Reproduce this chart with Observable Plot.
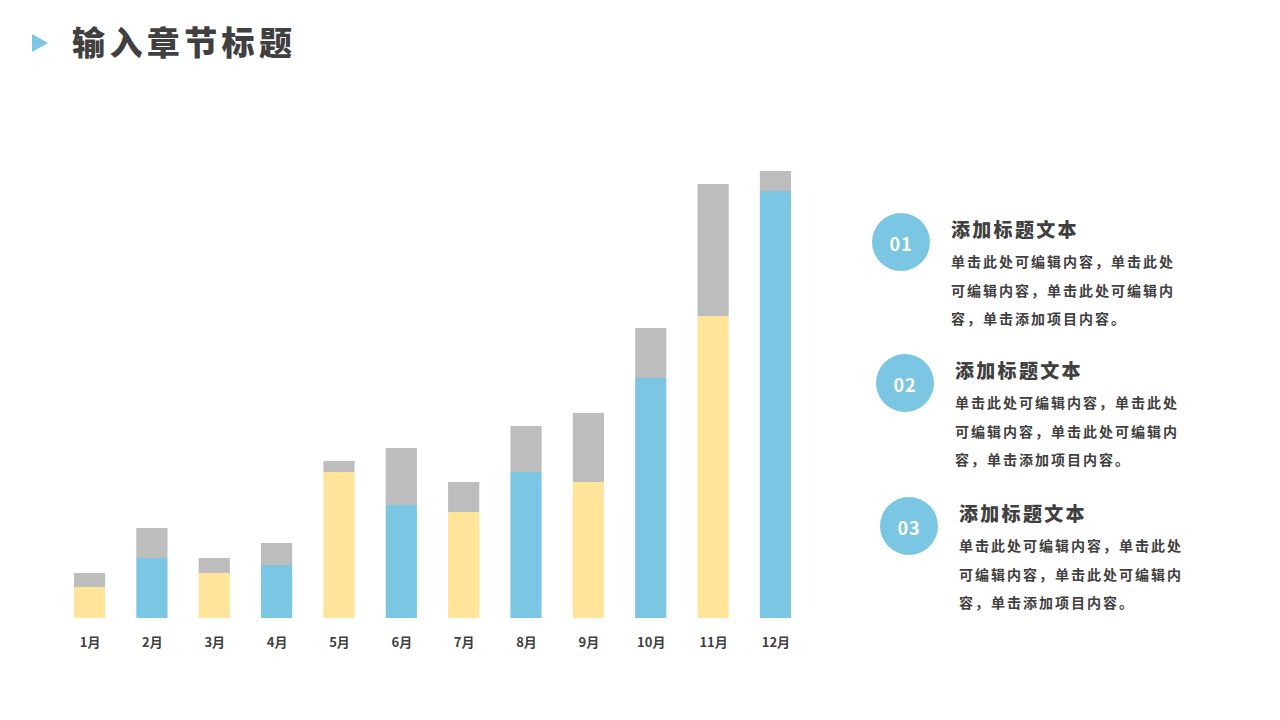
<!DOCTYPE html>
<html lang="zh">
<head>
<meta charset="utf-8">
<script src="https://cdn.jsdelivr.net/npm/d3@7"></script>
<script src="https://cdn.jsdelivr.net/npm/@observablehq/plot@0.6"></script>
<style>
  html, body { margin: 0; padding: 0; background: #fff; overflow: hidden; width: 1280px; height: 720px; }
  body { position: relative; font-family: "Noto Sans CJK SC", "Noto Sans", sans-serif; color: #404040; }
  #title { position: absolute; left: 72px; top: 18px; font-size: 33px; line-height: 46px; font-weight: 900; letter-spacing: 4.4px; white-space: nowrap; }
  #tri { position: absolute; left: 32px; top: 34px; width: 0; height: 0; border-left: 16px solid #7AC6E3; border-top: 9.5px solid transparent; border-bottom: 9.5px solid transparent; }
  #chart { position: absolute; left: 0; top: 90px; }
  #chart svg { display: block; }
  .item { position: absolute; width: 320px; height: 110px; }
  .badge { position: absolute; left: 0; top: 0; width: 58px; height: 58px; border-radius: 50%; background: #7AC6E3; color: #fff; font-size: 18px; font-weight: 700; line-height: 60px; text-align: center; letter-spacing: 1px; }
  .head { position: absolute; left: 79px; top: 1px; font-size: 19px; line-height: 30px; font-weight: 900; letter-spacing: 2.3px; white-space: nowrap; }
  .body { position: absolute; left: 79px; top: 34px; width: 228px; font-size: 14px; line-height: 28.6px; font-weight: 700; letter-spacing: 2px; }
</style>
</head>
<body>
<div id="tri"></div>
<div id="title"></div>
<div id="chart"></div>
<div id="legend"></div>
<script>
const months = ["1月","2月","3月","4月","5月","6月","7月","8月","9月","10月","11月","12月"];
const baseValues = [31,60,45,53,146,113,106,146,136,240,302,427];
const extraValues = [14,30,15,22,11,57,30,46,69,50,132,20];
const titleText = "输入章节标题";
const itemNumbers = ["01","02","03"];
const itemHeads = ["添加标题文本","添加标题文本","添加标题文本"];
const itemBody = "单击此处可编辑内容，单击此处可编辑内容，单击此处可编辑内容，单击添加项目内容。";
const itemLeft = [872,876,880];
const itemTop = [213,354,497];

const rows = months.flatMap((m, i) => [
  {month: m, part: i % 2 === 0 ? "黄" : "蓝", value: baseValues[i], order: 0},
  {month: m, part: "灰", value: extraValues[i], order: 1}
]);

const plot = Plot.plot({
  width: 1280,
  height: 610,
  marginTop: 81,
  marginBottom: 82,
  marginLeft: 42.8,
  marginRight: 457.8,
  style: {background: "transparent", fontFamily: '"Noto Sans CJK SC", sans-serif'},
  x: {domain: months, padding: 0.5, align: 0.5, round: false, label: null, tickSize: 0},
  y: {domain: [0, 447], axis: null},
  color: {domain: ["黄","蓝","灰"], range: ["#FFE499","#7AC6E3","#BDBDBD"]},
  marks: [
    Plot.barY(rows, Plot.stackY({x: "month", y: "value", fill: "part", order: "order", z: "order"})),
    Plot.axisX({anchor: "bottom", tickSize: 0, tickPadding: 19, fontSize: 13, fontWeight: 700, fill: "#404040", label: null})
  ]
});
document.getElementById("chart").appendChild(plot);
document.getElementById("title").textContent = titleText;

const legend = document.getElementById("legend");
itemNumbers.forEach((n, i) => {
  const el = document.createElement("div");
  el.className = "item";
  el.style.left = itemLeft[i] + "px";
  el.style.top = itemTop[i] + "px";
  const b = document.createElement("div"); b.className = "badge"; b.textContent = n;
  const h = document.createElement("div"); h.className = "head"; h.textContent = itemHeads[i];
  const t = document.createElement("div"); t.className = "body"; t.textContent = itemBody;
  el.append(b, h, t);
  legend.appendChild(el);
});
</script>
</body>
</html>
